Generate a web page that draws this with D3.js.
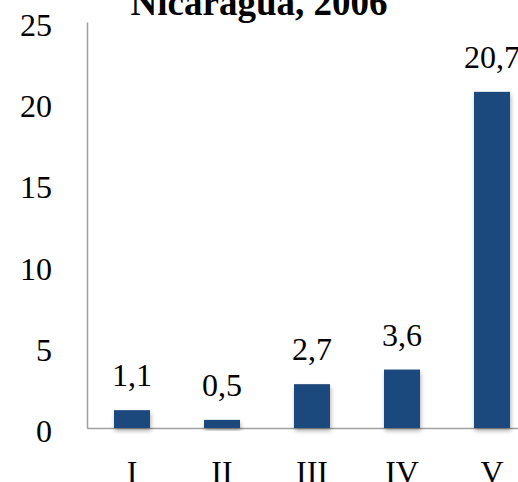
<!DOCTYPE html>
<html>
<head>
<meta charset="utf-8">
<script src="https://cdn.jsdelivr.net/npm/d3@7"></script>
<style>
  body { margin: 0; background: #fff; }
  text { font-family: "Liberation Serif", "Times New Roman", serif; fill: #000; }
</style>
</head>
<body>
<div id="chart-area"></div>
<script>
//============================DATA============================
var categories = ["I", "II", "III", "IV", "V"];
var values = [1.1, 0.5, 2.7, 3.6, 20.7];
var valueLabels = ["1,1", "0,5", "2,7", "3,6", "20,7"];
var yTicks = [0, 5, 10, 15, 20, 25];
var title = "Nicaragua, 2006";

//============================LAYOUT============================
var W = 518, H = 482;
var margins = { left: 87, top: 22 };
var width = 450;    // runs past the right edge, as in the reference
var height = 406;

var svg = d3.select("#chart-area")
    .append("svg")
    .attr("width", W)
    .attr("height", H);

// soft shadow under the bars
var defs = svg.append("defs");
defs.append("filter")
    .attr("id", "shadow")
    .attr("x", "-20%").attr("y", "-20%")
    .attr("width", "150%").attr("height", "150%")
    .append("feDropShadow")
    .attr("dx", 1).attr("dy", 3)
    .attr("stdDeviation", 2)
    .attr("flood-color", "#000")
    .attr("flood-opacity", 0.3);

var g = svg.append("g")
    .attr("transform", "translate(" + margins.left + "," + margins.top + ")");

//title (cut off at top)
svg.append("text")
    .attr("x", 259)
    .attr("y", 15)
    .attr("text-anchor", "middle")
    .attr("font-size", "37px")
    .attr("font-weight", "bold")
    .text(title);

//scales
var x = d3.scaleBand()
    .domain(categories)
    .range([0, width])
    .paddingInner(0.6)
    .paddingOuter(0.3);

var y = d3.scaleLinear()
    .domain([0, 25])
    .range([height, 0]);

//y axis
var yAxis = g.append("g")
    .attr("class", "y axis")
    .call(d3.axisLeft(y).tickValues(yTicks).tickSize(0).tickPadding(35));
yAxis.select(".domain").attr("stroke", "#a0a0a0").attr("stroke-width", 1.5);
yAxis.selectAll("text")
    .attr("font-size", "32px")
    .attr("font-family", "Liberation Serif, serif")
    .attr("dy", "0.42em");

//x axis
var xAxis = g.append("g")
    .attr("class", "x axis")
    .attr("transform", "translate(0," + height + ")")
    .call(d3.axisBottom(x).tickSize(0).tickPadding(55).tickSizeOuter(0));
xAxis.select(".domain").attr("stroke", "#a0a0a0").attr("stroke-width", 1.5);
xAxis.selectAll("text")
    .attr("font-size", "32px")
    .attr("font-family", "Liberation Serif, serif")
    .attr("dy", 0);

//bars
var rows = categories.map(function(c, i) {
    return { cat: c, value: values[i], label: valueLabels[i] };
});

g.selectAll("rect.bar")
    .data(rows)
    .enter()
    .append("rect")
    .attr("class", "bar")
    .attr("x", function(d) { return x(d.cat); })
    .attr("y", function(d) { return y(d.value); })
    .attr("width", x.bandwidth())
    .attr("height", function(d) { return height - y(d.value); })
    .attr("fill", "#1f497d")
    .attr("filter", "url(#shadow)");

//value labels
g.selectAll("text.value")
    .data(rows)
    .enter()
    .append("text")
    .attr("class", "value")
    .attr("x", function(d) { return x(d.cat) + x.bandwidth() / 2; })
    .attr("y", function(d) { return y(d.value) - 24; })
    .attr("text-anchor", "middle")
    .attr("font-size", "32px")
    .text(function(d) { return d.label; });
</script>
</body>
</html>
